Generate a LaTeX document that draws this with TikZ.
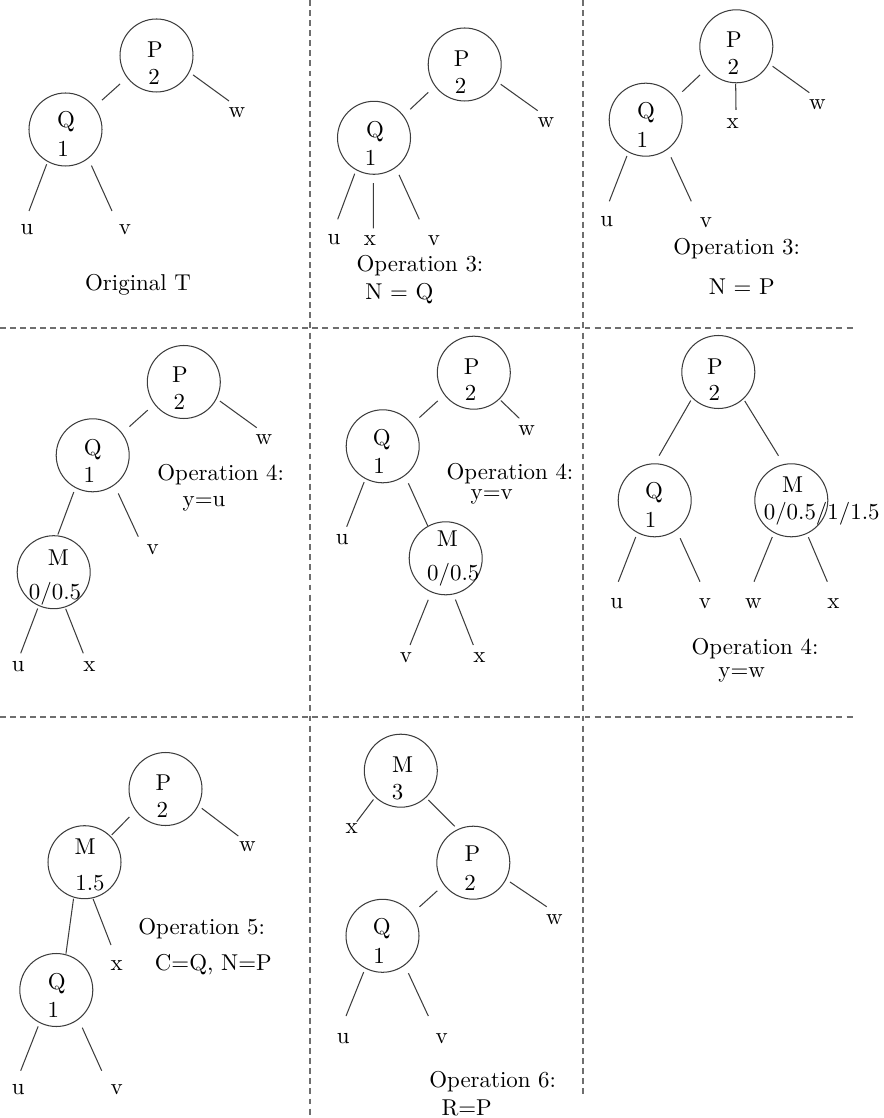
\documentclass[tikz,border=0pt]{standalone}
\definecolor{linegray}{RGB}{60,60,60}
\definecolor{dashgray}{RGB}{110,110,110}
\tikzset{
  circ/.style={draw=linegray, circle, minimum size=31.87pt, inner sep=0pt, line width=0.45pt},
  txt/.style={inner sep=0pt, font=\fontsize{10}{12}\selectfont},
  edge/.style={draw=linegray, line width=0.45pt},
  sh/.style 2 args={shorten <={#1*0.4366pt}, shorten >={#2*0.4366pt}},
  sepline/.style={draw=dashgray, dash pattern=on 2.6pt off 1.8pt, line width=0.45pt},
}
\begin{document}
\begin{tikzpicture}[x=0.4366pt, y=-0.4366pt]
\fill[white] (0,0) rectangle (883,1118);
\useasboundingbox (0,0) rectangle (883,1118);
% separators
\draw[sepline] (310,0) -- (310,1118);
\draw[sepline] (583,0) -- (583,1098);
\draw[sepline] (0,328) -- (855,328);
\draw[sepline] (0,717) -- (855,717);

% ---------------- Panel 1 ----------------
\node[circ] (P1) at (156.5,55.5) {};
\node[circ] (Q1) at (65.5,129.5) {};
\node[txt] (P1a) at (155,50) {P};   \node[txt] (P1b) at (154,76.7) {2};
\node[txt] (Q1a) at (66,122) {Q};   \node[txt] (Q1b) at (63,149) {1};
\node[txt] (w1) at (237,113) {w};
\node[txt] (u1) at (27,230) {u};
\node[txt] (v1) at (125,230) {v};
\coordinate (w1e) at (229,101);
\coordinate (u1e) at (29,211);
\coordinate (v1e) at (112,211);
\draw[edge, sh={9.2}{9.8}] (P1.217) -- (Q1.38);
\draw[edge, sh={4.4}{0}] (P1.333.1) -- (w1e);
\draw[edge, sh={2.6}{0}] (Q1.241.8) -- (u1e);
\draw[edge, sh={7.6}{0}] (Q1.308.6) -- (v1e);
\node[txt] (cap1) at (138,285) {Original T};

% ---------------- Panel 2 ----------------
\node[circ] (P2) at (464.7,64.5) {};
\node[circ] (Q2) at (374,137.8) {};
\node[txt] (P2a) at (461.7,58.3) {P};  \node[txt] (P2b) at (460.7,86) {2};
\node[txt] (Q2a) at (375,131.7) {Q};   \node[txt] (Q2b) at (370.7,158.3) {1};
\node[txt] (w2) at (546,122.7) {w};
\node[txt] (u2) at (334,240) {u};
\node[txt] (x2) at (370,240.7) {x};
\node[txt] (v2) at (434,240.7) {v};
\coordinate (w2e) at (537.7,110.7);
\coordinate (u2e) at (337.7,219.3);
\coordinate (x2e) at (373.3,228.3);
\coordinate (v2e) at (419.3,219.3);
\draw[edge, sh={8.9}{9.0}] (P2.216.8) -- (Q2.37.7);
\draw[edge, sh={4.1}{0}] (P2.332.4) -- (w2e);
\draw[edge, sh={3.8}{0}] (Q2.241.8) -- (u2e);
\draw[edge, sh={8.4}{0}] (Q2.269.1) -- (x2e);
\draw[edge, sh={7.9}{0}] (Q2.306.9) -- (v2e);
\node[txt] (cap2a) at (420,266) {Operation 3:};
\node[txt] (cap2b) at (399.3,293.3) {N = Q};

% ---------------- Panel 3 ----------------
\node[circ] (P3) at (736.3,46.3) {};
\node[circ] (Q3) at (645.7,119.7) {};
\node[txt] (P3a) at (734,40) {P};     \node[txt] (P3b) at (733.3,67.3) {2};
\node[txt] (Q3a) at (646,112.7) {Q};  \node[txt] (Q3b) at (642.3,140) {1};
\node[txt] (x3) at (732.7,123.3) {x};
\node[txt] (w3) at (817.3,105) {w};
\node[txt] (u3) at (606.7,221.7) {u};
\node[txt] (v3) at (706,222.7) {v};
\coordinate (x3e) at (736,110);
\coordinate (w3e) at (809.3,92.7);
\coordinate (u3e) at (609.3,201.3);
\coordinate (v3e) at (691.3,201.3);
\draw[edge, sh={9.3}{9.2}] (P3.217.6) -- (Q3.36.8);
\draw[edge, sh={0.5}{0}] (P3.269.5) -- (x3e);
\draw[edge, sh={4.4}{0}] (P3.332.8) -- (w3e);
\draw[edge, sh={3.9}{0}] (Q3.242.9) -- (u3e);
\draw[edge, sh={8.5}{0}] (Q3.306.9) -- (v3e);
\node[txt] (cap3a) at (736.7,248.3) {Operation 3:};
\node[txt] (cap3b) at (741.7,286.7) {N = P};

% ---------------- Panel 4 ----------------
\node[circ] (P4) at (183.8,382) {};
\node[circ] (Q4) at (92.7,455.3) {};
\node[circ] (M4) at (53.7,572.2) {};
\node[txt] (P4a) at (180,375) {P};    \node[txt] (P4b) at (179.3,401.7) {2};
\node[txt] (Q4a) at (92.7,450) {Q};   \node[txt] (Q4b) at (89.3,475) {1};
\node[txt] (M4a) at (58.3,557.3) {M}; \node[txt] (M4b) at (55,593.3) {0/0.5};
\node[txt] (w4) at (264,440) {w};
\node[txt] (v4) at (152.7,549.3) {v};
\node[txt] (u4) at (18.3,666.7) {u};
\node[txt] (x4) at (89.3,666.7) {x};
\coordinate (w4e) at (256.7,427.7);
\coordinate (v4e) at (138.3,536.7);
\coordinate (u4e) at (20.7,653.3);
\coordinate (x4e) at (83.3,653.3);
\draw[edge, sh={8.8}{9.6}] (P4.217.1) -- (Q4.37.4);
\draw[edge, sh={3.9}{0}] (P4.333.6) -- (w4e);
\draw[edge, sh={4.4}{0.9}] (Q4.242.8) -- (M4.84.5);
\draw[edge, sh={9}{0}] (Q4.306.9) -- (v4e);
\draw[edge, sh={2.7}{0}] (M4.246.9) -- (u4e);
\draw[edge, sh={1.5}{0}] (M4.288.4) -- (x4e);
\node[txt] (cap4a) at (220.7,475) {Operation 4:};
\node[txt] (cap4b) at (204,503.3) {y=u};

% ---------------- Panel 5 ----------------
\node[circ] (P5) at (473.8,372.7) {};
\node[circ] (Q5) at (382.7,446.3) {};
\node[circ] (M5) at (445.7,558.3) {};
\node[txt] (P5a) at (471.7,366.7) {P};  \node[txt] (P5b) at (470.7,393.3) {2};
\node[txt] (Q5a) at (381.7,440) {Q};    \node[txt] (Q5b) at (379,465.7) {1};
\node[txt] (M5a) at (447.3,538.3) {M};  \node[txt] (M5b) at (453.3,575) {0/0.5};
\node[txt] (w5) at (526.7,430.7) {w};
\node[txt] (u5) at (342.3,539.3) {u};
\node[txt] (v5) at (406,657.3) {v};
\node[txt] (x5) at (479.3,657.3) {x};
\coordinate (w5e) at (519.3,418.3);
\coordinate (u5e) at (346.7,526.7);
\coordinate (v5e) at (410,645);
\coordinate (x5e) at (473.3,645);
\draw[edge, sh={8.8}{9.6}] (P5.217.1) -- (Q5.37.4);
\draw[edge, sh={1.8}{0}] (P5.314.6) -- (w5e);
\draw[edge, sh={3.4}{0}] (Q5.242.5) -- (u5e);
\draw[edge, sh={8.2}{0}] (Q5.307.6) -- (M5.119.7);
\draw[edge, sh={8}{0}] (M5.247) -- (v5e);
\draw[edge, sh={5.5}{0}] (M5.282.8) -- (x5e);
\node[txt] (cap5a) at (510,474) {Operation 4:};
\node[txt] (cap5b) at (491.7,497) {y=v};

% ---------------- Panel 6 ----------------
\node[circ] (P6) at (718.3,372) {};
\node[circ] (Q6) at (654.7,500.3) {};
\node[circ] (M6) at (791.3,500.3) {};
\node[txt] (P6a) at (715,366.7) {P};    \node[txt] (P6b) at (714.3,393.3) {2};
\node[txt] (Q6a) at (654,492.7) {Q};    \node[txt] (Q6b) at (650.7,520) {1};
\node[txt] (M6a) at (792.7,485) {M};    \node[txt] (M6b) at (821.7,513.3) {0/0.5/1/1.5};
\node[txt] (u6) at (616.7,603.3) {u};
\node[txt] (v6) at (705,603.3) {v};
\node[txt] (w6) at (753.3,603.3) {w};
\node[txt] (x6) at (833.3,603.3) {x};
\coordinate (u6e) at (618.3,581.7);
\coordinate (v6e) at (700,581.7);
\coordinate (w6e) at (754,581.7);
\coordinate (x6e) at (827.3,581.7);
\draw[edge, sh={2.8}{8.8}] (P6.225.4) -- (Q6.90.9);
\draw[edge, sh={2.2}{9.8}] (P6.313.6) -- (M6.102);
\draw[edge, sh={4.4}{0}] (Q6.242.8) -- (u6e);
\draw[edge, sh={8.8}{0}] (Q6.306.6) -- (v6e);
\draw[edge, sh={4.4}{0}] (M6.242.9) -- (w6e);
\draw[edge, sh={3.7}{0}] (M6.295) -- (x6e);
\node[txt] (cap6a) at (755,648.3) {Operation 4:};
\node[txt] (cap6b) at (741.7,675) {y=w};

% ---------------- Panel 7 ----------------
\node[circ] (P7) at (165.5,789) {};
\node[circ] (M7) at (84.5,862.2) {};
\node[circ] (Q7) at (56.3,990) {};
\node[txt] (P7a) at (163.3,782.7) {P};  \node[txt] (P7b) at (162.3,810) {2};
\node[txt] (M7a) at (85,846.7) {M};     \node[txt] (M7b) at (90,883.3) {1.5};
\node[txt] (Q7a) at (56.7,983.3) {Q};   \node[txt] (Q7b) at (53.3,1010) {1};
\node[txt] (w7) at (247.3,846.7) {w};
\node[txt] (x7) at (116.7,966) {x};
\node[txt] (u7) at (18.3,1090) {u};
\node[txt] (v7) at (116.7,1090) {v};
\coordinate (w7e) at (238.3,836);
\coordinate (x7e) at (111,945);
\coordinate (u7e) at (20.7,1070.7);
\coordinate (v7e) at (101.7,1070.7);
\draw[edge, sh={8.7}{1.5}] (P7.216.7) -- (M7.45.7);
\draw[edge, sh={4.1}{0}] (P7.333.2) -- (w7e);
\draw[edge, sh={1.1}{0.7}] (M7.253.8) -- (Q7.75.4);
\draw[edge, sh={0.7}{0}] (M7.283.7) -- (x7e);
\draw[edge, sh={3.7}{0}] (Q7.243.4) -- (u7e);
\draw[edge, sh={8.9}{0}] (Q7.307.6) -- (v7e);
\node[txt] (cap7a) at (201.7,928.3) {Operation 5:};
\node[txt] (cap7b) at (213.3,965) {C=Q, N=P};

% ---------------- Panel 8 ----------------
\node[circ] (M8) at (400.8,770.7) {};
\node[circ] (P8) at (473.3,862.7) {};
\node[circ] (Q8) at (382.5,935.8) {};
\node[txt] (M8a) at (402.7,765) {M};    \node[txt] (M8b) at (397.7,791.7) {3};
\node[txt] (P8a) at (472.3,854) {P};    \node[txt] (P8b) at (470,883.3) {2};
\node[txt] (Q8a) at (381.7,928.3) {Q};  \node[txt] (Q8b) at (379,955.7) {1};
\node[txt] (x8) at (351.7,828.3) {x};
\node[txt] (w8) at (554.3,920) {w};
\node[txt] (u8) at (343.3,1038.3) {u};
\node[txt] (v8) at (441.7,1038.3) {v};
\coordinate (x8e) at (356.7,821.7);
\coordinate (w8e) at (546.7,906.7);
\coordinate (u8e) at (346,1016);
\coordinate (v8e) at (428.3,1016);
\draw[edge, sh={2.7}{0}] (M8.226.9) -- (x8e);
\draw[edge, sh={3.2}{4.1}] (M8.313.9) -- (P8.115.2);
\draw[edge, sh={8.7}{10}] (P8.217.2) -- (Q8.37.8);
\draw[edge, sh={4.4}{0}] (P8.333.9) -- (w8e);
\draw[edge, sh={3.9}{0}] (Q8.242.7) -- (u8e);
\draw[edge, sh={8.7}{0}] (Q8.307.5) -- (v8e);
\node[txt] (cap8a) at (492.7,1081.7) {Operation 6:};
\node[txt] (cap8b) at (466.7,1108.3) {R=P};
\end{tikzpicture}
\end{document}
